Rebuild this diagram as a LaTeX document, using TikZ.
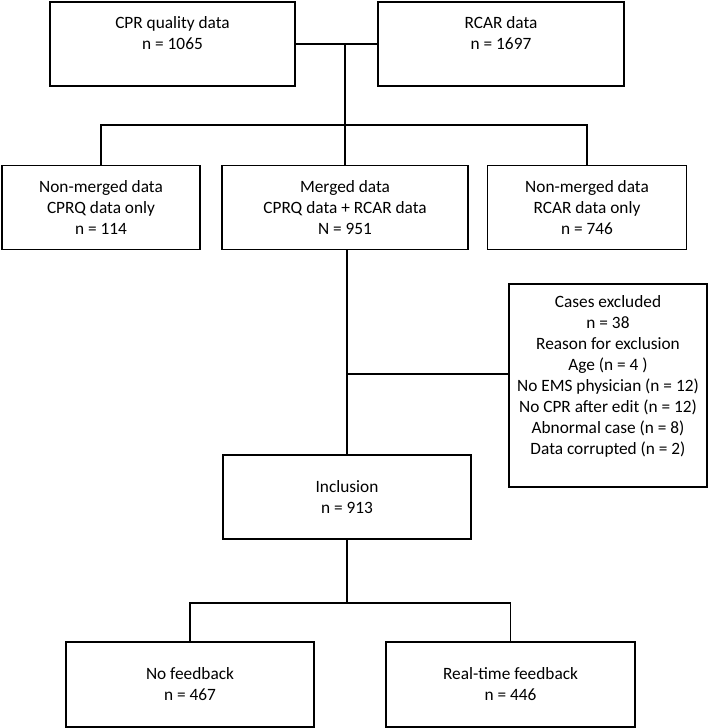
\documentclass[tikz,border=0pt]{standalone}
\usepackage{fontspec}
\setmainfont{Carlito}
\begin{document}
\begin{tikzpicture}[x=1pt,y=-1pt,
  box/.style={draw,line width=1.6pt,inner sep=0pt,align=center},
  txt/.style={inner sep=0pt,align=center},
  conn/.style={line width=1.6pt},
  every node/.append style={font=\fontsize{17.3}{21}\selectfont}]
\useasboundingbox[fill=white] (0,0) rectangle (709,728);
% top row
\node[box,minimum width=245pt,minimum height=84pt] (cpr) at (172.5,44) {};
\node[txt] (cprt) at (172.5,33) {CPR quality data\\n = 1065};
\node[box,minimum width=246pt,minimum height=84pt] (rcar) at (501,44) {};
\node[txt] (rcart) at (501,33) {RCAR data\\n = 1697};
% middle row
\node[box,minimum width=198pt,minimum height=84pt] (nm1) at (101,207.5) {Non-merged data\\CPRQ data only\\n = 114};
\node[box,minimum width=246pt,minimum height=84pt] (mer) at (345,207.5) {Merged data\\CPRQ data + RCAR data\\N = 951};
\node[box,minimum width=199pt,minimum height=84pt] (nm2) at (587,207.5) {Non-merged data\\RCAR data only\\n = 746};
% excluded
\node[box,minimum width=198pt,minimum height=203pt] (exc) at (608,385.5) {};
\node[txt] (exct) at (608,376) {Cases excluded\\n = 38\\Reason for exclusion\\Age (n = 4 )\\No EMS physician (n = 12)\\No CPR after edit (n = 12)\\Abnormal case (n = 8)\\Data corrupted (n = 2)};
% inclusion
\node[box,minimum width=248pt,minimum height=84pt] (inc) at (347,497) {Inclusion\\n = 913};
% bottom row
\node[box,minimum width=248pt,minimum height=85pt] (nof) at (190,684.5) {No feedback\\n = 467};
\node[box,minimum width=249pt,minimum height=85pt] (rtf) at (510.5,684.5) {Real-time feedback\\n = 446};
% connectors
\coordinate (j1) at (345,44);
\coordinate (j2) at (345,125);
\coordinate (j3) at (347,374);
\coordinate (j4) at (347,603);
\draw[conn] (cpr.east) -- (rcar.west);
\draw[conn] (j1) -- (j2);
\draw[conn] (nm1.north) |- (j2) -| (nm2.north);
\draw[conn] (j2) -- (mer.north);
\draw[conn] (mer.south -| inc.north) -- (inc.north);
\draw[conn] (j3) -- (j3 -| exc.west);
\draw[conn] (inc.south) -- (j4);
\draw[conn] (nof.north) |- (j4) -| (rtf.north);
\end{tikzpicture}
\end{document}
